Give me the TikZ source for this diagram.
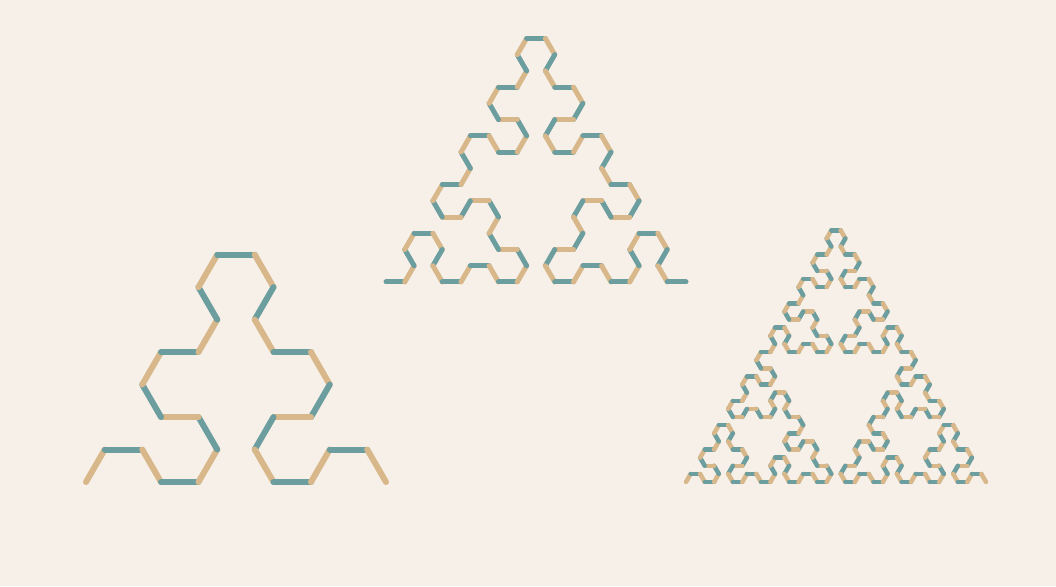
\documentclass[tikz,border=0pt]{standalone}
\usepackage{tikz}
\definecolor{paper}{RGB}{247,240,232}
\definecolor{curveteal}{RGB}{108,158,160}
\definecolor{curvetan}{RGB}{216,184,138}

\newcount\segno
\def\seglen{10}
\def\curx{0}\def\cury{0}\def\curang{0}

\newcommand\arrowseg{%
  \pgfmathsetmacro\nextx{\curx+\seglen*cos(\curang)}%
  \pgfmathsetmacro\nexty{\cury+\seglen*sin(\curang)}%
  \ifodd\segno \def\segcol{curveteal}\else \def\segcol{curvetan}\fi
  \draw[seg, draw=\segcol] (\curx,\cury) -- (\nextx,\nexty);
  \global\advance\segno by 1
  \xdef\curx{\nextx}\xdef\cury{\nexty}}

\newcommand\arrowturn[1]{\pgfmathsetmacro\tmpang{\curang+#1}\xdef\curang{\tmpang}}

\newcommand\arrowcurve[2]{%
  \ifnum#1=0 \arrowseg
  \else
    \begingroup
    \pgfmathtruncatemacro\subord{#1-1}%
    \pgfmathtruncatemacro\flipang{-(#2)}%
    \edef\runflip{\noexpand\arrowcurve{\subord}{\flipang}}%
    \edef\runsame{\noexpand\arrowcurve{\subord}{#2}}%
    \runflip\arrowturn{#2}\runsame\arrowturn{#2}\runflip
    \endgroup
  \fi}

% order, start x, start y, segment length, start heading
\newcommand\arrowhead[5]{%
  \xdef\curx{#2}\xdef\cury{#3}\xdef\curang{#5}\def\seglen{#4}%
  \arrowcurve{#1}{-60}}

\begin{document}
\begin{tikzpicture}[
    x=1pt, y=1pt,
    seg/.style={line cap=round}
]
\fill[paper] (0,0) rectangle (1056,586);
\useasboundingbox (0,0) rectangle (1056,586);

\begin{scope}[line width=6pt]
  \arrowhead{3}{86}{104}{37.5}{60}
\end{scope}
\begin{scope}[line width=5pt]
  \arrowhead{4}{386}{304}{18.75}{0}
\end{scope}
\begin{scope}[line width=4.5pt]
  \arrowhead{5}{686}{104}{9.375}{60}
\end{scope}
\end{tikzpicture}
\end{document}
